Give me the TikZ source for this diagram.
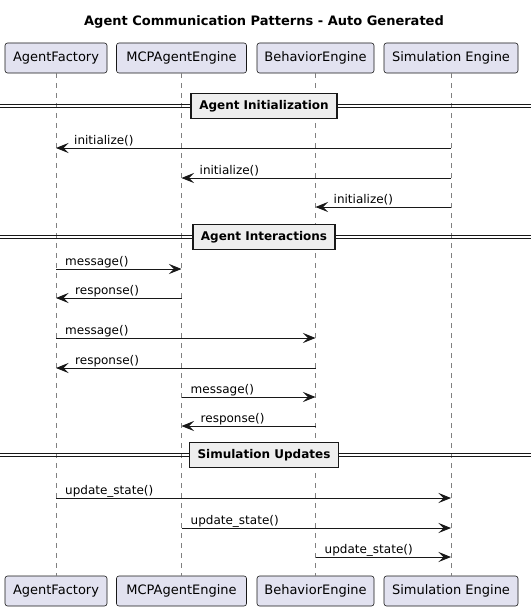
\documentclass[tikz,border=0pt]{standalone}
\usepackage{fontspec}
\setmainfont{DejaVu Sans}
\usetikzlibrary{arrows.meta}
\definecolor{partfill}{HTML}{E2E2F0}
\definecolor{ink}{HTML}{181818}
\definecolor{divfill}{HTML}{EEEEEE}
\tikzset{
  part/.style={draw=ink, fill=partfill, rounded corners=2.5pt, line width=0.6pt,
    minimum height=30pt, inner sep=0pt, font=\fontsize{13}{15}\selectfont, text=black},
  lifeline/.style={draw=ink!55, line width=0.8pt, dash pattern=on 5pt off 5pt},
  msg/.style={draw=ink, line width=0.9pt, -{Stealth[length=12.5pt,width=10pt,inset=5pt]}},
  lbl/.style={font=\fontsize{12}{14}\selectfont, inner sep=0pt, anchor=base west},
  divline/.style={draw=ink, line width=0.8pt},
  divbox/.style={draw=ink, fill=divfill, line width=1.7pt, inner xsep=8pt, minimum height=25pt,
    inner ysep=0pt, font=\bfseries\fontsize{12}{14}\selectfont},
  ttl/.style={font=\bfseries\fontsize{13}{15}\selectfont, inner sep=0pt}
}
\begin{document}
\begin{tikzpicture}[x=1pt,y=-1pt]
\useasboundingbox (0,0) rectangle (531,610);
\fill[white] (0,0) rectangle (531,610);

\node[ttl] (title) at (264,22) {Agent Communication Patterns - Auto Generated};

% participants top
\node[part, minimum width=102pt] (af) at (56,58) {AgentFactory};
\node[part, minimum width=130pt] (mcp) at (181.5,58) {MCPAgentEngine};
\node[part, minimum width=117pt] (be) at (315.5,58) {BehaviorEngine};
\node[part, minimum width=134pt] (se) at (451,58) {Simulation Engine};
% participants bottom
\node[part, minimum width=102pt] (afb) at (56,591) {AgentFactory};
\node[part, minimum width=130pt] (mcpb) at (181.5,591) {MCPAgentEngine};
\node[part, minimum width=117pt] (beb) at (315.5,591) {BehaviorEngine};
\node[part, minimum width=134pt] (seb) at (451,591) {Simulation Engine};

% lifelines
\draw[lifeline] (af.south) -- (afb.north);
\draw[lifeline] (mcp.south) -- (mcpb.north);
\draw[lifeline] (be.south) -- (beb.north);
\draw[lifeline] (se.south) -- (seb.north);

% dividers
\foreach \y/\n/\t in {106/d1/Agent Initialization, 237/d2/Agent Interactions, 455/d3/Simulation Updates}{
  \coordinate (\n l) at (0,\y);
  \coordinate (\n r) at (531,\y);
  \draw[divline] ([yshift=-1.6pt]\n l) -- ([yshift=-1.6pt]\n r);
  \draw[divline] ([yshift=1.6pt]\n l) -- ([yshift=1.6pt]\n r);
  \node[divbox] (\n) at (264,\y) {\t};
}

% Agent Initialization
\draw[msg] (se.south |- 0,148) -- (af.south |- 0,148);
\node[lbl] at ([xshift=18pt,yshift=4pt]af.south |- 0,148) {initialize()};
\draw[msg] (se.south |- 0,178) -- (mcp.south |- 0,178);
\node[lbl] at ([xshift=18pt,yshift=4pt]mcp.south |- 0,178) {initialize()};
\draw[msg] (se.south |- 0,207) -- (be.south |- 0,207);
\node[lbl] at ([xshift=18pt,yshift=4pt]be.south |- 0,207) {initialize()};

% Agent Interactions
\draw[msg] (af.south |- 0,269) -- (mcp.south |- 0,269);
\node[lbl] at ([xshift=9pt,yshift=4pt]af.south |- 0,269) {message()};
\draw[msg] (mcp.south |- 0,298) -- (af.south |- 0,298);
\node[lbl] at ([xshift=19pt,yshift=4pt]af.south |- 0,298) {response()};
\draw[msg] (af.south |- 0,338) -- (be.south |- 0,338);
\node[lbl] at ([xshift=9pt,yshift=4pt]af.south |- 0,338) {message()};
\draw[msg] (be.south |- 0,368) -- (af.south |- 0,368);
\node[lbl] at ([xshift=19pt,yshift=4pt]af.south |- 0,368) {response()};
\draw[msg] (mcp.south |- 0,397) -- (be.south |- 0,397);
\node[lbl] at ([xshift=9pt,yshift=4pt]mcp.south |- 0,397) {message()};
\draw[msg] (be.south |- 0,426) -- (mcp.south |- 0,426);
\node[lbl] at ([xshift=19pt,yshift=4pt]mcp.south |- 0,426) {response()};

% Simulation Updates
\draw[msg] (af.south |- 0,498) -- (se.south |- 0,498);
\node[lbl] at ([xshift=9pt,yshift=4pt]af.south |- 0,498) {update\_state()};
\draw[msg] (mcp.south |- 0,528) -- (se.south |- 0,528);
\node[lbl] at ([xshift=9pt,yshift=4pt]mcp.south |- 0,528) {update\_state()};
\draw[msg] (be.south |- 0,557) -- (se.south |- 0,557);
\node[lbl] at ([xshift=9pt,yshift=4pt]be.south |- 0,557) {update\_state()};
\end{tikzpicture}
\end{document}
